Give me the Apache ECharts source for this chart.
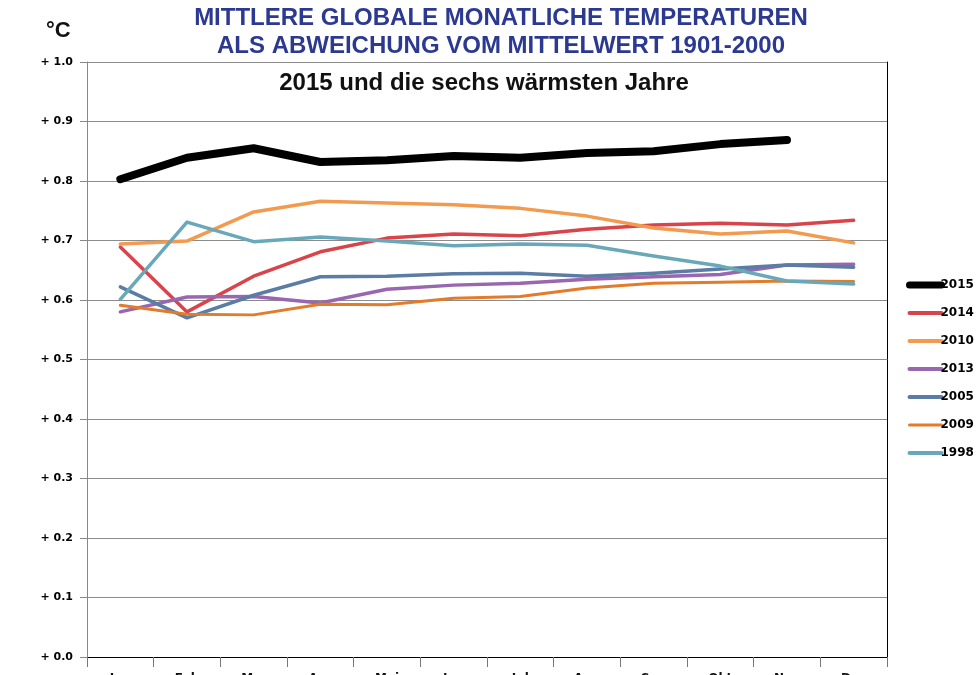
<!DOCTYPE html>
<html><head><meta charset="utf-8">
<script src="https://cdn.jsdelivr.net/npm/echarts@6/dist/echarts.min.js"></script>
<style>html,body{margin:0;padding:0;background:#fff}#c{width:979px;height:675px}</style>
</head><body><div id="c"></div>
<script>
const months = ["Jan","Feb","Mrz","Apr","Mai","Jun","Jul","Aug","Sep","Okt","Nov","Dez"];
const y2015 = [0.803,0.839,0.855,0.832,0.835,0.842,0.839,0.847,0.850,0.862,0.869,null];
const y2014 = [0.689,0.580,0.640,0.681,0.704,0.711,0.708,0.719,0.726,0.729,0.726,0.734];
const y2010 = [0.694,0.699,0.748,0.766,0.763,0.760,0.754,0.741,0.721,0.711,0.716,0.696];
const y2013 = [0.580,0.605,0.606,0.595,0.618,0.625,0.628,0.635,0.639,0.643,0.659,0.660];
const y2005 = [0.622,0.570,0.608,0.639,0.640,0.644,0.645,0.640,0.645,0.652,0.659,0.655];
const y2009 = [0.591,0.576,0.575,0.593,0.592,0.603,0.606,0.620,0.628,0.630,0.632,0.631];
const y1998 = [0.601,0.731,0.698,0.706,0.699,0.691,0.694,0.692,0.674,0.657,0.632,0.627];
const seriesDefs = [
  {name:"2015", data:y2015, color:"#000000", width:8, lw:7},
  {name:"2014", data:y2014, color:"#d9444b", width:3.5, lw:4},
  {name:"2010", data:y2010, color:"#f29a4e", width:3.5, lw:4},
  {name:"2013", data:y2013, color:"#9966b0", width:3.5, lw:4},
  {name:"2005", data:y2005, color:"#5b7ca4", width:3.5, lw:4},
  {name:"2009", data:y2009, color:"#e27b2a", width:3, lw:3},
  {name:"1998", data:y1998, color:"#68a8b9", width:3.5, lw:4}
];
const chart = echarts.init(document.getElementById('c'));
const font = "Liberation Sans, Arial, sans-serif";
const tickFont = "DejaVu Sans, Verdana, sans-serif";
chart.setOption({
  animation:false,
  textStyle:{fontFamily:font},
  grid:{left:87, right:92, top:62, bottom:18, containLabel:false, outerBoundsMode:'none'},
  graphic:[
    {type:'text', x:501, y:18, style:{text:"MITTLERE GLOBALE MONATLICHE TEMPERATUREN", fill:"#2b3990", font:"bold 24px "+font, textAlign:'center', textVerticalAlign:'middle', verticalAlign:'middle'}},
    {type:'text', x:501, y:46, style:{text:"ALS ABWEICHUNG VOM MITTELWERT 1901-2000", fill:"#2b3990", font:"bold 24px "+font, textAlign:'center', textVerticalAlign:'middle', verticalAlign:'middle'}},
    {type:'text', x:484, y:83, style:{text:"2015 und die sechs wärmsten Jahre", fill:"#111", font:"bold 24px "+font, textAlign:'center', textVerticalAlign:'middle', verticalAlign:'middle'}},
    {type:'text', x:46, y:31, style:{text:"°C", fill:"#111", font:"bold 22px "+font, textVerticalAlign:'middle', verticalAlign:'middle'}}
  ],
  legend:{
    orient:'vertical', left:906, top:279, padding:0, itemWidth:32, itemHeight:14, itemGap:16,
    textStyle:{fontSize:12, fontWeight:'bold', color:'#000', fontFamily:tickFont, padding:[0,0,0,-6]},
    itemStyle:{opacity:0},
    data:seriesDefs.map(s=>({name:s.name, itemStyle:{opacity:0}, lineStyle:{width:s.lw, color:s.color, cap:'round'}}))
  },
  xAxis:[{
    type:'category', data:months, boundaryGap:true,
    axisLine:{lineStyle:{color:'#888', width:1}},
    axisTick:{show:true, length:10, lineStyle:{color:'#777'}},
    axisLabel:{margin:16, fontSize:12, fontWeight:'bold', color:'#111', fontFamily:tickFont},
    splitLine:{show:false}
  },{
    type:'category', data:months, position:'top', boundaryGap:true,
    axisLine:{show:true, lineStyle:{color:'#000', width:1}},
    axisTick:{show:false}, axisLabel:{show:false}, splitLine:{show:false}
  }],
  yAxis:[{
    type:'value', min:0, max:1, interval:0.1,
    axisLine:{show:true, lineStyle:{color:'#888', width:1}},
    axisTick:{show:true, length:7, lineStyle:{color:'#888'}},
    axisLabel:{formatter:v=>'+ '+v.toFixed(1), fontSize:11, fontWeight:'bold', color:'#000', margin:14, fontFamily:tickFont},
    splitLine:{show:true, lineStyle:{color:'#8c8c8c', width:1}}
  },{
    type:'value', min:0, max:1, interval:0.1, position:'right',
    axisLine:{show:true, lineStyle:{color:'#000', width:1}},
    axisTick:{show:false}, axisLabel:{show:false}, splitLine:{show:false}
  }],
  series:seriesDefs.map(s=>({
    name:s.name, type:'line', data:s.data, symbol:'none', smooth:false,
    lineStyle:{color:s.color, width:s.width, cap:'round', join:'round'},
    itemStyle:{color:s.color},
    z: s.name==="2015"?5:2
  }))
});
</script></body></html>
